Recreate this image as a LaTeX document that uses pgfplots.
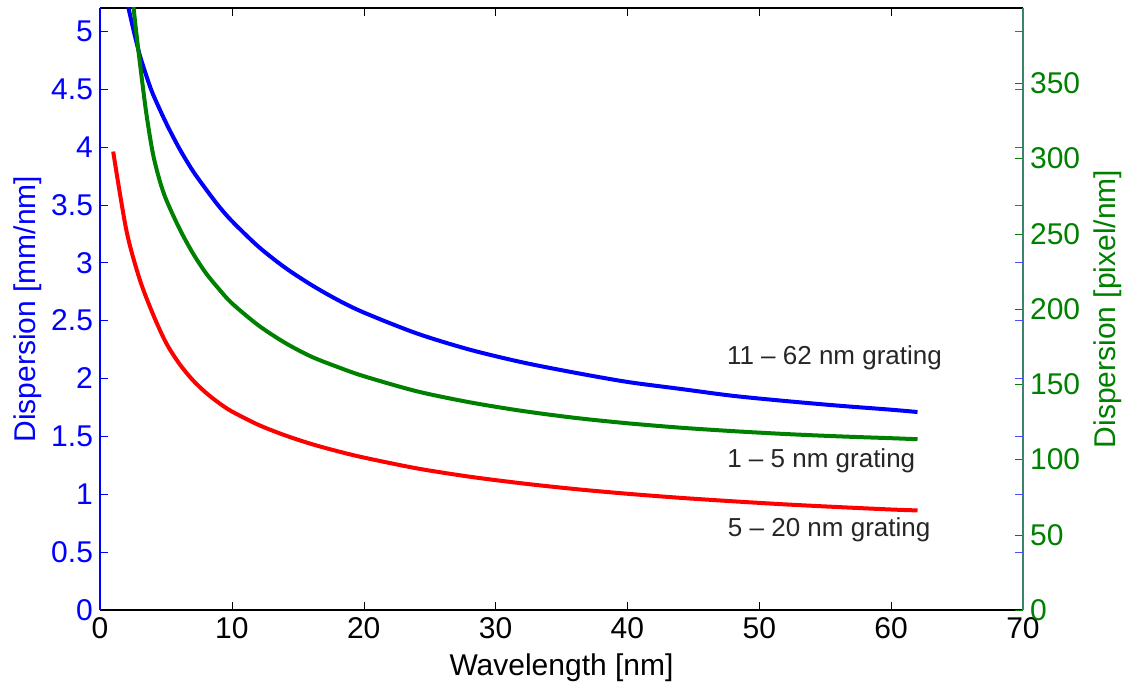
\documentclass[border=0pt]{standalone}
\usepackage{fontspec}
\setmainfont{Liberation Sans}
\usepackage{pgfplots}
\pgfplotsset{compat=1.18}
\definecolor{mblue}{RGB}{0,0,255}
\definecolor{mgreen}{RGB}{0,128,0}
\definecolor{mred}{RGB}{255,0,0}
\definecolor{spine}{RGB}{60,130,110}
\begin{document}
\begin{tikzpicture}
\begin{axis}[name=a1, scale only axis, width=461.5pt, height=301pt,
  xmin=0, xmax=70, ymin=0, ymax=5.2,
  xtick={0,10,20,30,40,50,60,70},
  ytick={0,0.5,1,1.5,2,2.5,3,3.5,4,4.5,5},
  yticklabels={0,0.5,1,1.5,2,2.5,3,3.5,4,4.5,5},
  axis y line*=left, axis x line*=box,
  y axis line style={mblue, line width=0.8pt},
  x axis line style={black, line width=0.8pt},
  ytick style={mblue}, xtick style={black},
  tick align=inside, major tick length=4pt,
  /pgf/number format/assume math mode=true,
  tick label style={font=\fontsize{15}{18}\selectfont},
  yticklabel style={mblue},
  xlabel={Wavelength [nm]}, ylabel={Dispersion [mm/nm]},
  xlabel style={font=\fontsize{15}{18}\selectfont, yshift=-1pt},
  ylabel style={font=\fontsize{15}{18}\selectfont, mblue, yshift=-2pt},
  clip mode=individual,
]
\addplot[mblue, line width=2pt, smooth] coordinates {
(2.0,5.28)(2.5,5.03)(3,4.80)(3.5,4.62)(4,4.46)(5,4.21)(6,3.99)(7,3.80)(8,3.64)(9,3.49)(10,3.36)(12,3.14)(14,2.96)(16,2.81)(18,2.68)(20,2.57)(24,2.39)(28,2.25)(32,2.14)(36,2.05)(40,1.97)(44,1.91)(48,1.85)(52,1.805)(56,1.765)(60,1.73)(62,1.71)};
\addplot[mgreen, line width=2pt, smooth] coordinates {
(2.4,5.36)(2.7,5.04)(3,4.75)(3.5,4.30)(4,3.95)(4.5,3.72)(5,3.55)(6,3.30)(7,3.09)(8,2.915)(9,2.775)(10,2.65)(12,2.46)(14,2.31)(16,2.19)(18,2.10)(20,2.02)(24,1.89)(28,1.795)(32,1.72)(36,1.66)(40,1.613)(44,1.575)(48,1.545)(52,1.52)(56,1.50)(60,1.484)(62,1.475)};
\addplot[mred, line width=2pt, smooth] coordinates {
(1,3.96)(2,3.28)(3,2.86)(4,2.56)(5,2.31)(6,2.13)(7,1.99)(8,1.88)(9,1.79)(10,1.715)(12,1.60)(14,1.51)(16,1.435)(18,1.372)(20,1.317)(24,1.224)(28,1.152)(32,1.094)(36,1.045)(40,1.004)(44,0.969)(48,0.939)(52,0.912)(56,0.889)(60,0.868)(62,0.86)};
\node[font=\fontsize{13}{15}\selectfont, text=black!85] at (axis cs:55.7,2.18) {11 -- 62 nm grating};
\node[font=\fontsize{13}{15}\selectfont, text=black!85] at (axis cs:54.7,1.29) {1 -- 5 nm grating};
\node[font=\fontsize{13}{15}\selectfont, text=black!85] at (axis cs:55.3,0.69) {5 -- 20 nm grating};
\end{axis}
\begin{axis}[scale only axis, width=461.5pt, height=301pt,
  xmin=0, xmax=70, ymin=0, ymax=400,
  axis x line=none, axis y line*=right,
  y axis line style={spine, line width=0.8pt},
  ytick={0,50,100,150,200,250,300,350},
  ytick style={mgreen}, tick align=inside, major tick length=4pt,
  extra y ticks={38.46,76.92,115.38,153.85,192.31,230.77,269.23,307.69,346.15,384.62},
  extra y tick labels={},
  extra y tick style={ytick style={mblue!70}},
  /pgf/number format/assume math mode=true,
  tick label style={font=\fontsize{15}{18}\selectfont},
  yticklabel style={mgreen},
  ylabel={Dispersion [pixel/nm]},
  ylabel style={font=\fontsize{15}{18}\selectfont, mgreen},
]
\end{axis}
\pgfresetboundingbox
\path[use as bounding box] ([shift={(-50pt,-39pt)}]a1.south west) rectangle ([shift={(54pt,4pt)}]a1.north east);
\end{tikzpicture}
\end{document}
